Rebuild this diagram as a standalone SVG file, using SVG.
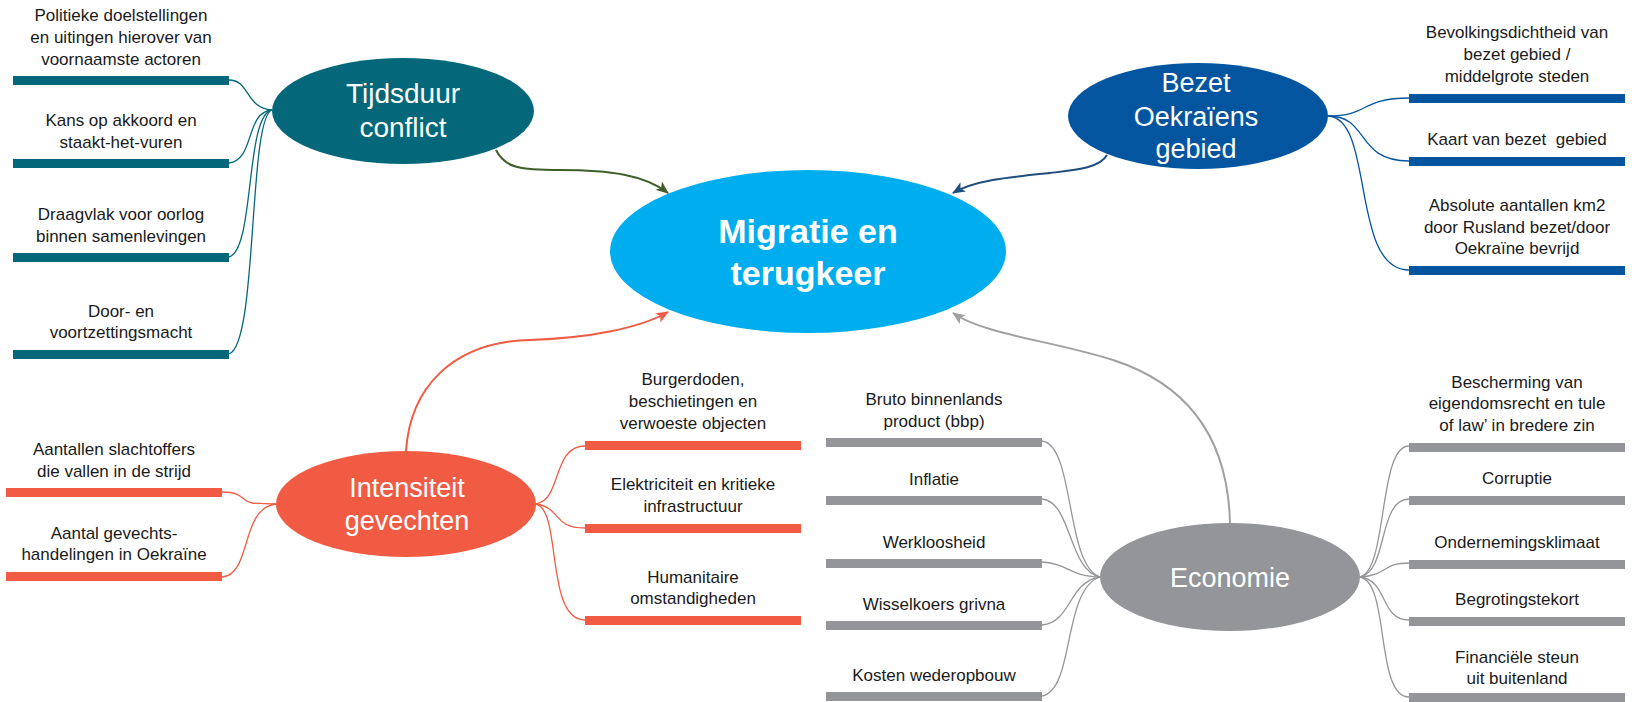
<svg xmlns="http://www.w3.org/2000/svg" width="1632" height="702" viewBox="0 0 1632 702">
<defs>
<style>
.lbl{font-family:'Liberation Sans',Arial,sans-serif;font-size:17px;fill:#1a1a1a;text-anchor:middle;white-space:pre}
.hd{font-family:'Liberation Sans',Arial,sans-serif;fill:#ffffff;text-anchor:middle}
.teal{fill:#04687a}
.blue{fill:#0455a0}
.red{fill:#f15b43}
.gray{fill:#939598}
.c-teal{stroke:#04687a;stroke-width:1.3;fill:none}
.c-blue{stroke:#0455a0;stroke-width:1.3;fill:none}
.c-red{stroke:#f15b43;stroke-width:1.3;fill:none}
.c-gray{stroke:#939598;stroke-width:1.3;fill:none}
</style>
<marker id="ah-green" viewBox="0 0 12 10" refX="11" refY="5" markerWidth="13" markerHeight="11" markerUnits="userSpaceOnUse" orient="auto"><path d="M0,0 L12,5 L0,10 L3,5 z" fill="#3f5f2a"/></marker>
<marker id="ah-blue" viewBox="0 0 12 10" refX="11" refY="5" markerWidth="13" markerHeight="11" markerUnits="userSpaceOnUse" orient="auto"><path d="M0,0 L12,5 L0,10 L3,5 z" fill="#1f4e7e"/></marker>
<marker id="ah-red" viewBox="0 0 12 10" refX="11" refY="5" markerWidth="13" markerHeight="11" markerUnits="userSpaceOnUse" orient="auto"><path d="M0,0 L12,5 L0,10 L3,5 z" fill="#f15b43"/></marker>
<marker id="ah-gray" viewBox="0 0 12 10" refX="11" refY="5" markerWidth="13" markerHeight="11" markerUnits="userSpaceOnUse" orient="auto"><path d="M0,0 L12,5 L0,10 L3,5 z" fill="#a0a0a2"/></marker>
</defs>
<rect width="1632" height="702" fill="#ffffff"/>

<g id="connectors">
<!-- main arrows -->
<path d="M496,150 C505,168 520,170 560,170 C610,170 645,175 668,193" stroke="#3f5f2a" stroke-width="2" fill="none" marker-end="url(#ah-green)"/>
<path d="M1107,155 C1100,168 1075,170 1050,173 C1010,177 975,180 953,193" stroke="#1f4e7e" stroke-width="2" fill="none" marker-end="url(#ah-blue)"/>
<path d="M406,451 C410,390 450,342 530,340 C590,338 640,328 668,312" stroke="#f15b43" stroke-width="2" fill="none" marker-end="url(#ah-red)"/>
<path d="M1230,523 C1228,440 1190,385 1113,360 C1050,340 985,335 953,313" stroke="#a0a0a2" stroke-width="2" fill="none" marker-end="url(#ah-gray)"/>
<!-- Tijdsduur branches -->
<path class="c-teal" d="M229,80 C250,80 245,108 272,110"/>
<path class="c-teal" d="M229,163 C255,160 245,112 272,110"/>
<path class="c-teal" d="M229,257 C255,250 245,115 272,110"/>
<path class="c-teal" d="M229,354 C258,345 248,118 272,110"/>
<!-- Bezet branches -->
<path class="c-blue" d="M1328,116 C1370,116 1360,98 1409,98"/>
<path class="c-blue" d="M1328,116 C1370,116 1355,161 1409,161"/>
<path class="c-blue" d="M1328,116 C1375,118 1350,270 1409,270"/>
<!-- Intensiteit branches -->
<path class="c-red" d="M222,492 C245,492 242,502 252,503 C262,504 270,504 276,504"/>
<path class="c-red" d="M222,577 C252,575 240,508 276,504"/>
<path class="c-red" d="M536,504 C562,500 552,446 585,446"/>
<path class="c-red" d="M536,504 C562,508 552,528 585,528"/>
<path class="c-red" d="M536,504 C562,510 545,620 585,620"/>
<!-- Economie branches -->
<path class="c-gray" d="M1042,441 C1075,445 1065,565 1100,577"/>
<path class="c-gray" d="M1042,499 C1072,502 1068,570 1100,577"/>
<path class="c-gray" d="M1042,562 C1070,564 1068,576 1100,577"/>
<path class="c-gray" d="M1042,625 C1072,622 1068,582 1100,577"/>
<path class="c-gray" d="M1042,696 C1075,690 1062,590 1100,577"/>
<path class="c-gray" d="M1360,577 C1388,570 1378,446 1409,446"/>
<path class="c-gray" d="M1360,577 C1388,572 1378,499 1409,499"/>
<path class="c-gray" d="M1360,577 C1388,575 1382,563 1409,563"/>
<path class="c-gray" d="M1360,577 C1388,580 1380,620 1409,620"/>
<path class="c-gray" d="M1360,577 C1390,582 1375,697 1409,697"/>
</g>

<g id="node-main">
<ellipse cx="808" cy="251.5" rx="198" ry="81.5" fill="#00aeef"/>
<text class="hd" x="808" y="243" font-size="34" font-weight="bold">Migratie en</text>
<text class="hd" x="808" y="285" font-size="34" font-weight="bold">terugkeer</text>
</g>

<g id="node-tijdsduur">
<ellipse class="teal" cx="403" cy="111" rx="131" ry="53"/>
<text class="hd" x="403" y="103" font-size="28">Tijdsduur</text>
<text class="hd" x="403" y="137" font-size="28">conflict</text>
</g>
<g id="leaf-t1"><rect class="teal" x="13" y="76" width="216" height="9"/><text class="lbl" x="121" y="21">Politieke doelstellingen</text><text class="lbl" x="121" y="43">en uitingen hierover van</text><text class="lbl" x="121" y="65">voornaamste actoren</text></g>
<g id="leaf-t2"><rect class="teal" x="13" y="159" width="216" height="9"/><text class="lbl" x="121" y="126">Kans op akkoord en</text><text class="lbl" x="121" y="148">staakt-het-vuren</text></g>
<g id="leaf-t3"><rect class="teal" x="13" y="253" width="216" height="9"/><text class="lbl" x="121" y="220">Draagvlak voor oorlog</text><text class="lbl" x="121" y="242">binnen samenlevingen</text></g>
<g id="leaf-t4"><rect class="teal" x="13" y="350" width="216" height="9"/><text class="lbl" x="121" y="317">Door- en</text><text class="lbl" x="121" y="338">voortzettingsmacht</text></g>

<g id="node-bezet">
<ellipse class="blue" cx="1198" cy="116" rx="130" ry="53"/>
<text class="hd" x="1196" y="92" font-size="27">Bezet</text>
<text class="hd" x="1196" y="126" font-size="27">Oekraïens</text>
<text class="hd" x="1196" y="158" font-size="27">gebied</text>
</g>
<g id="leaf-b1"><rect class="blue" x="1409" y="94" width="216" height="9"/><text class="lbl" x="1517" y="38">Bevolkingsdichtheid van</text><text class="lbl" x="1517" y="60">bezet gebied /</text><text class="lbl" x="1517" y="82">middelgrote steden</text></g>
<g id="leaf-b2"><rect class="blue" x="1409" y="157" width="216" height="9"/><text class="lbl" x="1517" y="145">Kaart van bezet  gebied</text></g>
<g id="leaf-b3"><rect class="blue" x="1409" y="266" width="216" height="9"/><text class="lbl" x="1517" y="211">Absolute aantallen km2</text><text class="lbl" x="1517" y="233">door Rusland bezet/door</text><text class="lbl" x="1517" y="254">Oekraïne bevrijd</text></g>

<g id="node-intensiteit">
<ellipse class="red" cx="406" cy="504" rx="130" ry="53"/>
<text class="hd" x="407" y="497" font-size="27">Intensiteit</text>
<text class="hd" x="407" y="530" font-size="27">gevechten</text>
</g>
<g id="leaf-i1"><rect class="red" x="6" y="488" width="216" height="9"/><text class="lbl" x="114" y="455">Aantallen slachtoffers</text><text class="lbl" x="114" y="477">die vallen in de strijd</text></g>
<g id="leaf-i2"><rect class="red" x="6" y="572" width="216" height="9"/><text class="lbl" x="114" y="539">Aantal gevechts-</text><text class="lbl" x="114" y="560">handelingen in Oekraïne</text></g>
<g id="leaf-i3"><rect class="red" x="585" y="441" width="216" height="9"/><text class="lbl" x="693" y="385">Burgerdoden,</text><text class="lbl" x="693" y="407">beschietingen en</text><text class="lbl" x="693" y="429">verwoeste objecten</text></g>
<g id="leaf-i4"><rect class="red" x="585" y="524" width="216" height="9"/><text class="lbl" x="693" y="490">Elektriciteit en kritieke</text><text class="lbl" x="693" y="512">infrastructuur</text></g>
<g id="leaf-i5"><rect class="red" x="585" y="616" width="216" height="9"/><text class="lbl" x="693" y="583">Humanitaire</text><text class="lbl" x="693" y="604">omstandigheden</text></g>

<g id="node-economie">
<ellipse class="gray" cx="1230" cy="577" rx="130" ry="54"/>
<text class="hd" x="1230" y="587" font-size="27">Economie</text>
</g>
<g id="leaf-e1"><rect class="gray" x="826" y="438" width="216" height="9"/><text class="lbl" x="934" y="405">Bruto binnenlands</text><text class="lbl" x="934" y="427">product (bbp)</text></g>
<g id="leaf-e2"><rect class="gray" x="826" y="496" width="216" height="9"/><text class="lbl" x="934" y="485">Inflatie</text></g>
<g id="leaf-e3"><rect class="gray" x="826" y="559" width="216" height="9"/><text class="lbl" x="934" y="548">Werkloosheid</text></g>
<g id="leaf-e4"><rect class="gray" x="826" y="621" width="216" height="9"/><text class="lbl" x="934" y="610">Wisselkoers grivna</text></g>
<g id="leaf-e5"><rect class="gray" x="826" y="692" width="216" height="9"/><text class="lbl" x="934" y="681">Kosten wederopbouw</text></g>
<g id="leaf-e6"><rect class="gray" x="1409" y="443" width="216" height="9"/><text class="lbl" x="1517" y="388">Bescherming van</text><text class="lbl" x="1517" y="409">eigendomsrecht en tule</text><text class="lbl" x="1517" y="431">of law’ in bredere zin</text></g>
<g id="leaf-e7"><rect class="gray" x="1409" y="496" width="216" height="9"/><text class="lbl" x="1517" y="484">Corruptie</text></g>
<g id="leaf-e8"><rect class="gray" x="1409" y="560" width="216" height="9"/><text class="lbl" x="1517" y="548">Ondernemingsklimaat</text></g>
<g id="leaf-e9"><rect class="gray" x="1409" y="617" width="216" height="9"/><text class="lbl" x="1517" y="605">Begrotingstekort</text></g>
<g id="leaf-e10"><rect class="gray" x="1409" y="693" width="216" height="9"/><text class="lbl" x="1517" y="663">Financiële steun</text><text class="lbl" x="1517" y="684">uit buitenland</text></g>
</svg>
